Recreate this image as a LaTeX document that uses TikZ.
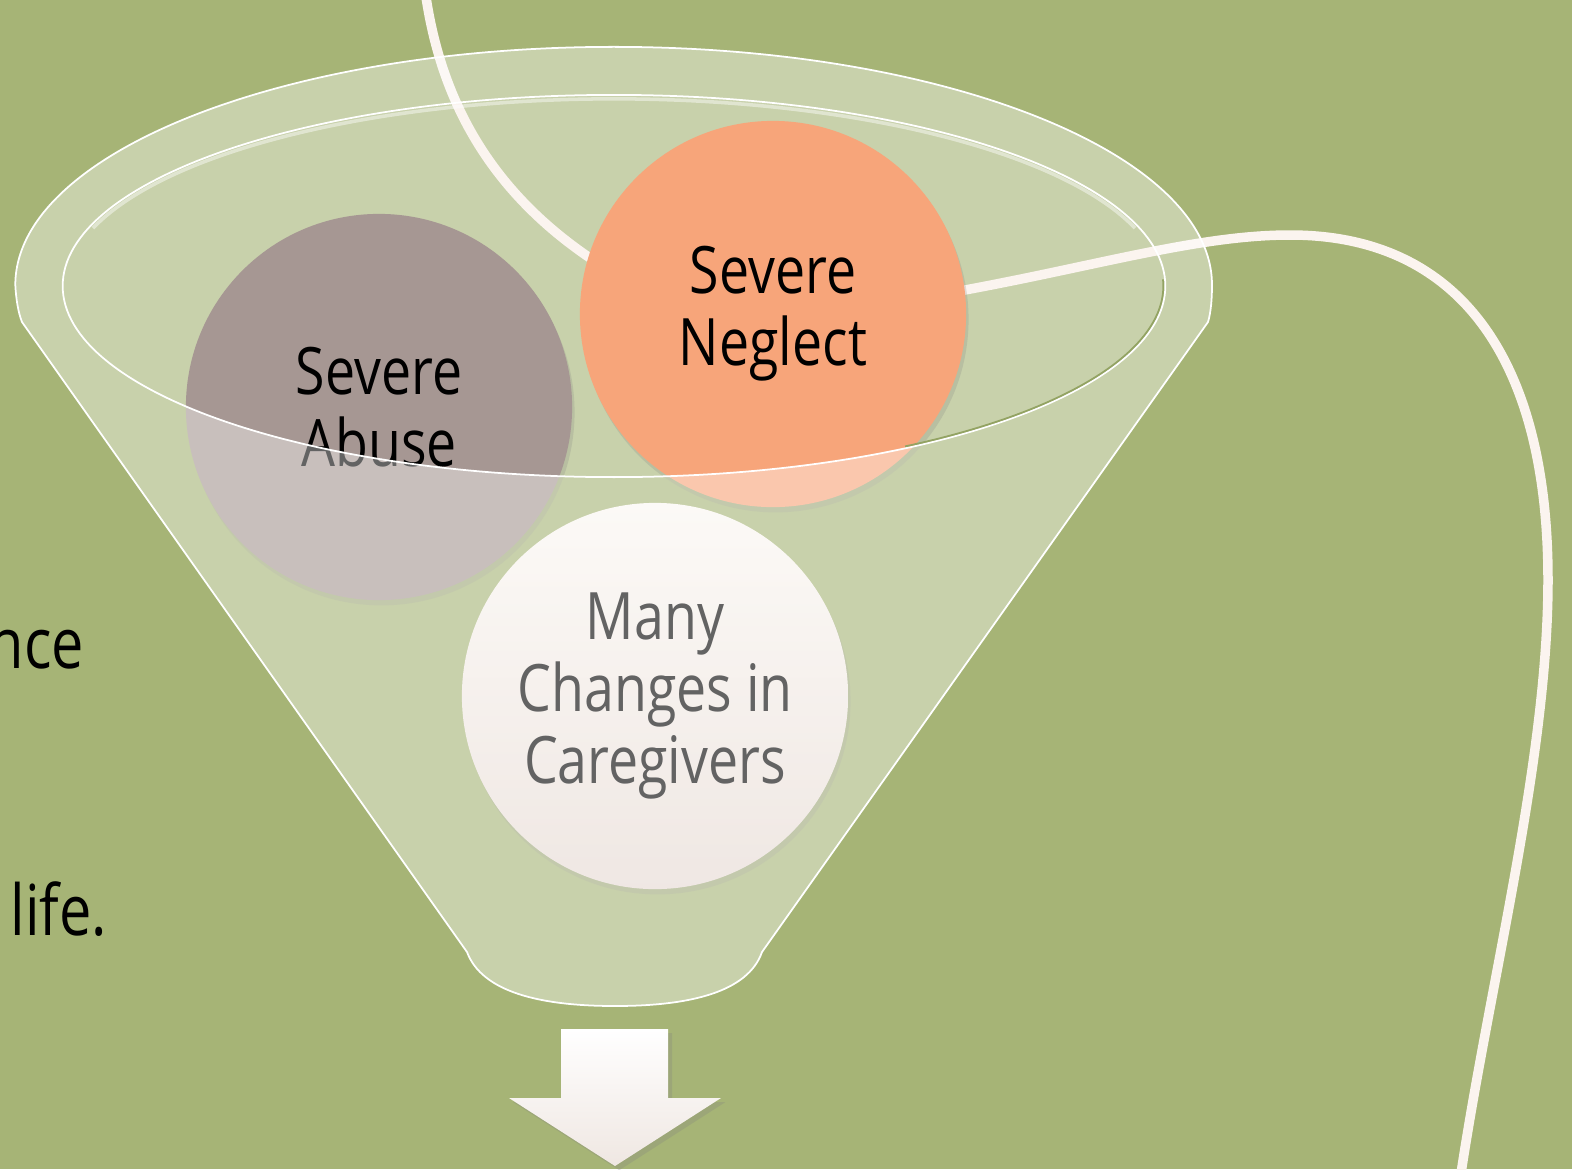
\documentclass[tikz,border=0pt]{standalone}
\usepackage{fontspec}
\setmainfont{Open Sans}
\newfontfamily\gillfont{Open Sans}[FakeStretch=0.82]
\usetikzlibrary{shadows}
\definecolor{bg}{HTML}{A6B476}
\definecolor{abusecol}{HTML}{A69793}
\definecolor{neglectcol}{HTML}{F7A57A}
\definecolor{ropecol}{HTML}{FBF4EF}
\definecolor{rimdark}{HTML}{93A363}
\definecolor{caretop}{HTML}{FBF7F2}
\definecolor{carebot}{HTML}{E6D9D2}
\definecolor{arrowbot}{HTML}{EFE7E2}
\begin{document}
\begin{tikzpicture}[x=0.01cm,y=-0.01cm,
  bubble/.style={circle, minimum size=3.86cm, inner sep=0pt, align=center,
    font=\gillfont\fontsize{18.6}{20.5}\selectfont,
    drop shadow={opacity=0.22, shadow xshift=0.7pt, shadow yshift=-1.5pt}},
  lefttext/.style={inner sep=0pt, font=\gillfont\fontsize{20}{22}\selectfont},
  funnelglass/.style={fill=white, fill opacity=0.39},
  ropeline/.style={draw=ropecol, line width=2.7pt}]
\useasboundingbox (0,0) rectangle (1572,1169);
\clip (0,0) rectangle (1572,1169);
\fill[bg] (0,0) rectangle (1572,1169);

% left text fragments
\node[lefttext, anchor=base west] (t1) at (-12,668) {nce};
\node[lefttext, anchor=base west] (t2) at (10,935) {life.};

% back of funnel (opening)
\path[funnelglass] (614,286) ellipse [x radius=5.51cm, y radius=1.91cm];

% rope
\path[ropeline] (425,-10) .. controls (440,100) and (490,190) .. (590,258)
  .. controls (700,330) and (850,310) .. (965,290)
  .. controls (1100,265) and (1200,235) .. (1290,235)
  .. controls (1460,235) and (1548,360) .. (1548,580)
  .. controls (1548,760) and (1490,980) .. (1460,1180);

% circles
\node[bubble, fill=abusecol] (abuse) at (379,407) {Severe\\Abuse};
\node[bubble, fill=neglectcol] (neglect) at (773,314) {Severe\\Neglect};
\node[bubble, top color=caretop, bottom color=carebot] (care) at (655,696) {Many\\Changes in\\Caregivers};

% front of funnel
\path[funnelglass, even odd rule]
  (22,322) -- (467,952) .. controls (482,992) and (540,1006) .. (615,1006)
  .. controls (690,1006) and (748,992) .. (762,952) -- (1208,322)
  .. controls (1211,312) and (1212,298) .. (1212,285)
  arc[start angle=0, end angle=180, x radius=5.98cm, y radius=2.38cm]
  .. controls (16,298) and (18,312) .. (22,322) -- cycle
  (614,286) ellipse [x radius=5.51cm, y radius=1.91cm];
\draw[white, line width=0.5pt]
  (22,322) -- (467,952) .. controls (482,992) and (540,1006) .. (615,1006)
  .. controls (690,1006) and (748,992) .. (762,952) -- (1208,322)
  .. controls (1211,312) and (1212,298) .. (1212,285)
  arc[start angle=0, end angle=180, x radius=5.98cm, y radius=2.38cm]
  .. controls (16,298) and (18,312) .. (22,322);
% rim edge highlights
\draw[white, line width=0.5pt] (614,286) ellipse [x radius=5.51cm, y radius=1.91cm];
\draw[white, opacity=0.45, line width=1pt]
  (614,286) ++(162:5.475cm and 1.87cm) arc[start angle=162, end angle=18, x radius=5.475cm, y radius=1.87cm];
\draw[rimdark, line width=0.5pt]
  (614,286) ++(-58:5.49cm and 1.89cm) arc[start angle=-58, end angle=2, x radius=5.49cm, y radius=1.89cm];

% arrow
\path[top color=white, bottom color=arrowbot,
  drop shadow={opacity=0.25, shadow xshift=1.2pt, shadow yshift=-1.2pt}]
  (561,1029) -- (668,1029) -- (668,1098) -- (721,1098) -- (615,1166)
  -- (509,1098) -- (561,1098) -- cycle;
\end{tikzpicture}
\end{document}
